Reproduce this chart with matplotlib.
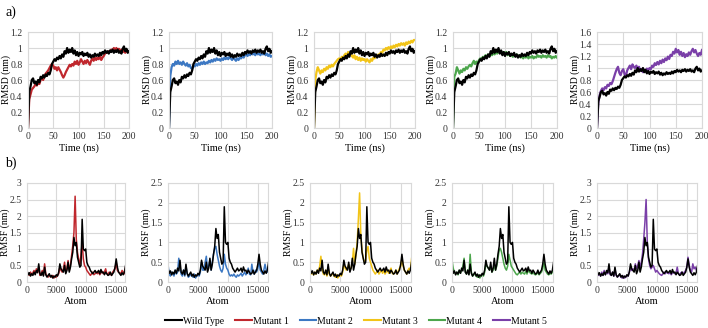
import numpy as np
import matplotlib
matplotlib.use('Agg')
import matplotlib.pyplot as plt
from matplotlib.ticker import FormatStrFormatter

plt.rcParams['font.family'] = ['Liberation Serif', 'DejaVu Serif']

# ---------------- data ----------------
time_ns = np.arange(0, 200.1, 2.5)      # 81 points
atom_idx = np.arange(0, 16801, 200)     # 85 points

series_names = ["Wild Type", "Mutant 1", "Mutant 2", "Mutant 3", "Mutant 4", "Mutant 5"]
series_colors = ["#000000", "#C0272D", "#3C78C3", "#F2C418", "#4CA64C", "#7A3FA8"]

rmsd_wt = [
    0.00, 0.45, 0.52, 0.60, 0.62, 0.56, 0.58, 0.54, 0.60, 0.57,
    0.64, 0.62, 0.66, 0.63, 0.67, 0.65, 0.69, 0.67, 0.72, 0.80,
    0.83, 0.86, 0.84, 0.88, 0.86, 0.90, 0.87, 0.92, 0.89, 0.96,
    0.93, 1.00, 0.94, 0.98, 0.95, 1.00, 0.93, 0.97, 0.91, 0.95,
    0.90, 0.94, 0.92, 0.95, 0.90, 0.93, 0.91, 0.94, 0.89, 0.92,
    0.88, 0.91, 0.89, 0.93, 0.90, 0.92, 0.90, 0.94, 0.91, 0.95,
    0.93, 0.97, 0.94, 0.96, 0.93, 0.97, 0.95, 0.98, 0.94, 0.97,
    0.95, 0.98, 0.94, 0.96, 0.93, 0.99, 1.02, 0.96, 0.99, 0.94,
    0.96]
rmsd_m1 = [
    0.00, 0.36, 0.42, 0.48, 0.50, 0.52, 0.55, 0.53, 0.57, 0.55,
    0.60, 0.62, 0.60, 0.65, 0.68, 0.70, 0.72, 0.75, 0.78, 0.80,
    0.78, 0.74, 0.76, 0.72, 0.76, 0.73, 0.70, 0.66, 0.63, 0.66,
    0.70, 0.73, 0.76, 0.79, 0.77, 0.80, 0.78, 0.83, 0.80, 0.84,
    0.79, 0.82, 0.86, 0.83, 0.80, 0.84, 0.81, 0.85, 0.82, 0.79,
    0.84, 0.87, 0.84, 0.88, 0.85, 0.88, 0.86, 0.90, 0.85, 0.88,
    0.90, 0.93, 0.95, 0.94, 0.96, 0.95, 0.98, 0.97, 1.00, 0.98,
    1.00, 0.97, 0.99, 0.96, 0.98, 0.95, 0.97, 0.94, 0.97, 0.95,
    0.96]
rmsd_m2 = [
    0.00, 0.65, 0.76, 0.80, 0.78, 0.83, 0.80, 0.84, 0.80, 0.82,
    0.79, 0.83, 0.80, 0.78, 0.81, 0.77, 0.79, 0.75, 0.74, 0.78,
    0.77, 0.80, 0.78, 0.81, 0.79, 0.82, 0.80, 0.83, 0.80, 0.82,
    0.81, 0.84, 0.82, 0.85, 0.83, 0.86, 0.84, 0.87, 0.85, 0.86,
    0.84, 0.87, 0.85, 0.88, 0.86, 0.88, 0.86, 0.89, 0.87, 0.85,
    0.88, 0.86, 0.84, 0.87, 0.85, 0.88, 0.87, 0.90, 0.88, 0.91,
    0.92, 0.90, 0.93, 0.91, 0.94, 0.92, 0.93, 0.91, 0.94, 0.92,
    0.93, 0.91, 0.94, 0.92, 0.95, 0.91, 0.93, 0.90, 0.92, 0.89,
    0.90]
rmsd_m3 = [
    0.00, 0.60, 0.70, 0.76, 0.72, 0.68, 0.72, 0.70, 0.74, 0.72,
    0.76, 0.74, 0.78, 0.76, 0.79, 0.77, 0.80, 0.82, 0.84, 0.86,
    0.87, 0.85, 0.89, 0.87, 0.91, 0.93, 0.90, 0.95, 0.92, 0.94,
    0.90, 0.88, 0.91, 0.86, 0.89, 0.85, 0.88, 0.84, 0.87, 0.85,
    0.86, 0.83, 0.86, 0.84, 0.82, 0.86, 0.84, 0.88, 0.87, 0.90,
    0.89, 0.92, 0.91, 0.95, 0.94, 0.98, 0.97, 1.00, 0.98, 1.01,
    0.99, 1.02, 1.00, 1.03, 1.01, 1.04, 1.02, 1.05, 1.03, 1.06,
    1.04, 1.06, 1.03, 1.07, 1.05, 1.08, 1.06, 1.09, 1.07, 1.10,
    1.10]
rmsd_m4 = [
    0.00, 0.64, 0.68, 0.76, 0.72, 0.68, 0.72, 0.70, 0.74, 0.72,
    0.76, 0.74, 0.77, 0.79, 0.77, 0.81, 0.84, 0.80, 0.83, 0.81,
    0.85, 0.87, 0.86, 0.89, 0.88, 0.91, 0.89, 0.92, 0.90, 0.93,
    0.91, 0.94, 0.92, 0.95, 0.93, 0.96, 0.94, 0.96, 0.93, 0.95,
    0.93, 0.95, 0.91, 0.93, 0.90, 0.92, 0.89, 0.91, 0.90, 0.92,
    0.89, 0.91, 0.88, 0.90, 0.87, 0.90, 0.88, 0.91, 0.87, 0.89,
    0.88, 0.90, 0.87, 0.89, 0.88, 0.91, 0.89, 0.90, 0.88, 0.91,
    0.89, 0.90, 0.88, 0.91, 0.89, 0.90, 0.87, 0.89, 0.88, 0.90,
    0.88]
rmsd_m5 = [
    0.00, 0.42, 0.55, 0.62, 0.66, 0.63, 0.68, 0.66, 0.72, 0.70,
    0.75, 0.73, 0.78, 0.85, 0.92, 0.98, 1.02, 0.92, 0.88, 0.95,
    0.98, 0.90, 0.86, 0.96, 1.00, 1.04, 0.98, 1.06, 1.02, 1.00,
    1.04, 0.98, 1.02, 0.95, 0.98, 0.93, 0.97, 0.94, 0.99, 0.96,
    1.00, 0.98, 1.04, 1.02, 1.08, 1.05, 1.10, 1.06, 1.12, 1.08,
    1.14, 1.10, 1.16, 1.13, 1.19, 1.15, 1.22, 1.20, 1.27, 1.24,
    1.32, 1.26, 1.30, 1.22, 1.27, 1.20, 1.25, 1.18, 1.23, 1.20,
    1.26, 1.22, 1.28, 1.32, 1.26, 1.30, 1.24, 1.20, 1.25, 1.22,
    1.30]

rmsf_wt = [
    0.35, 0.22, 0.28, 0.18, 0.25, 0.20, 0.30, 0.22, 0.35, 0.28,
    0.55, 0.25, 0.20, 0.30, 0.18, 0.45, 0.22, 0.15, 0.20, 0.25,
    0.15, 0.20, 0.12, 0.18, 0.15, 0.22, 0.18, 0.30, 0.55, 0.40,
    0.35, 0.30, 0.50, 0.25, 0.35, 0.60, 0.30, 0.45, 0.70, 0.90,
    1.35, 1.10, 1.20, 0.75, 0.60, 0.45, 0.50, 1.90, 1.00, 0.95,
    1.00, 0.60, 0.50, 0.45, 0.35, 0.30, 0.25, 0.30, 0.35, 0.28,
    0.30, 0.35, 0.25, 0.38, 0.28, 0.30, 0.22, 0.30, 0.25, 0.20,
    0.22, 0.30, 0.20, 0.25, 0.30, 0.45, 0.70, 0.45, 0.30, 0.25,
    0.20, 0.28, 0.22, 0.30, 0.50]
rmsf_m1 = [
    0.30, 0.25, 0.20, 0.30, 0.22, 0.28, 0.35, 0.25, 0.40, 0.30,
    0.45, 0.20, 0.25, 0.35, 0.20, 0.55, 0.25, 0.18, 0.15, 0.20,
    0.18, 0.15, 0.20, 0.12, 0.18, 0.15, 0.20, 0.25, 0.45, 0.35,
    0.30, 0.40, 0.60, 0.30, 0.40, 0.65, 0.35, 0.50, 0.80, 1.10,
    1.50, 2.60, 1.30, 0.90, 0.70, 0.50, 0.80, 1.20, 0.70, 0.50,
    0.45, 0.35, 0.30, 0.25, 0.20, 0.25, 0.30, 0.22, 0.25, 0.30,
    0.25, 0.30, 0.22, 0.28, 0.32, 0.25, 0.30, 0.40, 0.25, 0.22,
    0.30, 0.25, 0.20, 0.30, 0.35, 0.40, 0.60, 0.35, 0.30, 0.28,
    0.25, 0.35, 0.30, 0.25, 0.45]
rmsf_m2 = [
    0.45, 0.20, 0.15, 0.25, 0.20, 0.15, 0.30, 0.20, 0.25, 0.60,
    0.35, 0.20, 0.15, 0.30, 0.15, 0.40, 0.20, 0.12, 0.15, 0.20,
    0.15, 0.12, 0.20, 0.10, 0.15, 0.20, 0.15, 0.25, 0.50, 0.30,
    0.30, 0.50, 0.65, 0.30, 0.40, 0.55, 0.30, 0.50, 0.70, 0.85,
    0.90, 0.70, 0.55, 0.40, 0.30, 0.25, 0.35, 0.70, 0.45, 0.35,
    0.30, 0.20, 0.15, 0.18, 0.15, 0.20, 0.15, 0.12, 0.18, 0.15,
    0.18, 0.22, 0.15, 0.20, 0.25, 0.18, 0.22, 0.35, 0.20, 0.18,
    0.45, 0.25, 0.20, 0.30, 0.25, 0.35, 0.50, 0.30, 0.25, 0.20,
    0.30, 0.45, 0.30, 0.25, 0.40]
rmsf_m3 = [
    0.30, 0.20, 0.25, 0.18, 0.25, 0.20, 0.30, 0.25, 0.40, 0.65,
    0.35, 0.20, 0.18, 0.30, 0.15, 0.35, 0.20, 0.15, 0.18, 0.22,
    0.15, 0.12, 0.18, 0.10, 0.15, 0.18, 0.15, 0.25, 0.45, 0.35,
    0.30, 0.35, 0.45, 0.30, 0.35, 0.50, 0.85, 0.45, 0.70, 1.00,
    1.60, 2.25, 1.20, 0.80, 0.60, 0.50, 0.55, 0.80, 0.90, 0.60,
    0.50, 0.40, 0.30, 0.25, 0.20, 0.25, 0.30, 0.20, 0.25, 0.30,
    0.22, 0.30, 0.20, 0.25, 0.30, 0.22, 0.28, 0.35, 0.22, 0.20,
    0.25, 0.30, 0.20, 0.28, 0.35, 0.40, 0.60, 0.40, 0.30, 0.25,
    0.20, 0.30, 0.35, 0.30, 0.60]
rmsf_m4 = [
    0.55, 0.35, 0.25, 0.20, 0.25, 0.18, 0.30, 0.22, 0.30, 0.40,
    0.60, 0.25, 0.20, 0.30, 0.20, 0.70, 0.25, 0.15, 0.18, 0.20,
    0.15, 0.12, 0.18, 0.10, 0.15, 0.20, 0.15, 0.25, 0.45, 0.40,
    0.35, 0.30, 0.40, 0.25, 0.30, 0.45, 0.30, 0.40, 0.60, 0.80,
    0.85, 0.75, 0.60, 0.45, 0.35, 0.30, 0.40, 0.70, 0.55, 0.40,
    0.35, 0.30, 0.25, 0.20, 0.18, 0.22, 0.25, 0.20, 0.25, 0.22,
    0.20, 0.28, 0.20, 0.30, 0.25, 0.22, 0.20, 0.25, 0.20, 0.18,
    0.20, 0.25, 0.18, 0.22, 0.25, 0.35, 0.50, 0.30, 0.25, 0.20,
    0.18, 0.22, 0.20, 0.25, 0.35]
rmsf_m5 = [
    0.30, 0.20, 0.25, 0.18, 0.30, 0.20, 0.35, 0.22, 0.30, 0.25,
    0.45, 0.22, 0.20, 0.30, 0.18, 0.40, 0.20, 0.15, 0.18, 0.22,
    0.15, 0.12, 0.18, 0.12, 0.15, 0.20, 0.18, 0.30, 0.45, 0.35,
    0.40, 0.35, 0.55, 0.40, 0.50, 0.65, 0.45, 0.60, 0.85, 1.30,
    1.80, 2.50, 1.20, 0.70, 0.50, 0.40, 0.45, 0.50, 0.40, 0.30,
    0.35, 0.30, 0.25, 0.22, 0.20, 0.25, 0.30, 0.25, 0.30, 0.28,
    0.25, 0.30, 0.22, 0.28, 0.30, 0.25, 0.28, 0.45, 0.25, 0.22,
    0.28, 0.30, 0.25, 0.30, 0.35, 0.45, 0.75, 0.50, 0.35, 0.30,
    0.55, 0.40, 0.45, 0.35, 0.45]

rmsd_mutants = [rmsd_m1, rmsd_m2, rmsd_m3, rmsd_m4, rmsd_m5]
rmsf_mutants = [rmsf_m1, rmsf_m2, rmsf_m3, rmsf_m4, rmsf_m5]
rmsd_ymax = [1.2, 1.2, 1.2, 1.2, 1.6]
rmsf_ymax = [3.0, 2.5, 2.5, 2.5, 3.0]

# ---------------- layout ----------------
W, H = 708, 328
fig = plt.figure(figsize=(W / 100, H / 100), dpi=100)

top_boxes = [(28, 32, 101, 96), (169, 32, 103, 96), (314, 32, 101, 96),
             (453, 32, 104, 96), (597, 32, 105, 96)]
bot_boxes = [(27, 183, 98, 99), (168, 183, 100, 99), (310, 183, 101, 99),
             (452, 183, 101, 99), (597, 183, 100, 99)]

grid_c = "#D9D9D9"
tick_fs = 7
lab_fs = 7


def make_ax(box, ylabel, xlabel):
    x, y, w, h = box
    ax = fig.add_axes([x / W, 1 - (y + h) / H, w / W, h / H])
    for s in ax.spines.values():
        s.set_color(grid_c)
        s.set_linewidth(0.8)
    ax.grid(True, color=grid_c, linewidth=0.8)
    ax.set_axisbelow(True)
    ax.tick_params(axis='y', length=0, labelsize=tick_fs, pad=4, colors="#333333")
    ax.tick_params(axis='x', length=0, labelsize=tick_fs, pad=3, colors="#333333")
    ax.set_xlabel(xlabel, fontsize=lab_fs + 0.5, labelpad=1.5)
    ax.set_ylabel(ylabel, fontsize=lab_fs)
    ax.yaxis.set_label_coords(-17.0 / w, 0.5)
    return ax


for i in range(5):
    ax = make_ax(top_boxes[i], "RMSD (nm)", "Time (ns)")
    ax.plot(time_ns, rmsd_mutants[i], color=series_colors[i + 1], lw=1.6)
    ax.plot(time_ns, rmsd_wt, color=series_colors[0], lw=1.6)
    ax.set_xlim(0, 200)
    ax.set_ylim(0, rmsd_ymax[i])
    ax.set_xticks([0, 50, 100, 150, 200])
    ax.set_yticks(np.arange(0, rmsd_ymax[i] + 0.01, 0.2))
    ax.yaxis.set_major_formatter(FormatStrFormatter('%g'))

for i in range(5):
    ax = make_ax(bot_boxes[i], "RMSF (nm)", "Atom")
    ax.plot(atom_idx, rmsf_mutants[i], color=series_colors[i + 1], lw=1.1)
    ax.plot(atom_idx, rmsf_wt, color=series_colors[0], lw=1.1)
    ax.set_xlim(0, 16700)
    ax.set_ylim(0, rmsf_ymax[i])
    ax.set_xticks([0, 5000, 10000, 15000])
    ax.set_yticks(np.arange(0, rmsf_ymax[i] + 0.01, 0.5))
    ax.yaxis.set_major_formatter(FormatStrFormatter('%g'))

fig.text(5 / W, 1 - 12 / H, "a)", fontsize=10, va="center", ha="left")
fig.text(5 / W, 1 - 163 / H, "b)", fontsize=10, va="center", ha="left")

handles = [plt.Line2D([], [], color=c, lw=1.5) for c in series_colors]
fig.legend(handles, series_names, loc="center", bbox_to_anchor=(356 / W, 1 - 321 / H),
           ncol=6, frameon=False, fontsize=7, handlelength=1.7, handletextpad=0.1,
           columnspacing=1.15)

fig.savefig("out.png", dpi=100)
